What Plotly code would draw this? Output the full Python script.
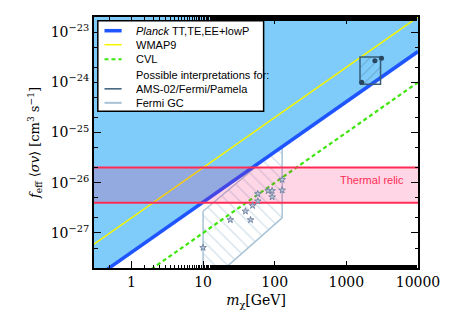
import plotly.graph_objects as go

# axis limits
m_range = [0.3, 10000]
sv_range = [2e-28, 2e-23]

# limits on f_eff <sigma v> (straight lines in log-log)
line_m = [0.3, 10000]
planck_sv = [1.23e-28, 4.1e-24]
wmap9_sv = [6.0e-28, 2.0e-23]
cvl_sv = [3.0e-29, 1.0e-24]

# thermal relic band
relic_low = 4e-27
relic_high = 2e-26

# AMS-02/Fermi/Pamela region and points
ams_box_m = [1550, 3000, 3000, 1550, 1550]
ams_box_sv = [9.2e-25, 9.2e-25, 3.2e-24, 3.2e-24, 9.2e-25]
ams_m = [1640, 2500, 3100]
ams_sv = [1.0e-24, 2.7e-24, 3.0e-24]

# Fermi GC region and fits
gc_poly_m = [10, 127, 127, 11.8, 10, 10]
gc_poly_sv = [2.7e-27, 5.7e-26, 2.0e-27, 1.0e-28, 1.0e-28, 2.7e-27]
gc_m = [10, 24, 39, 46, 49, 58, 58, 81, 92, 92, 127, 127]
gc_sv = [5.1e-28, 1.82e-27, 2.7e-27, 1.82e-27, 3.5e-27, 4.3e-27,
         6.0e-27, 6.9e-27, 6.9e-27, 5.2e-27, 1.15e-26, 7.1e-27]

x_ticks = [1, 10, 100, 1000, 10000]
x_ticktext = ['1', '10', '100', '1000', '10000']
y_ticks = [1e-27, 1e-26, 1e-25, 1e-24, 1e-23]
y_ticktext = ['10<sup>−27</sup>', '10<sup>−26</sup>', '10<sup>−25</sup>',
              '10<sup>−24</sup>', '10<sup>−23</sup>']

legend_names = ['<i>Planck</i> TT,TE,EE+lowP', 'WMAP9', 'CVL',
                'Possible interpretations for:', 'AMS-02/Fermi/Pamela', 'Fermi GC']

PLANCK_FILL = 'rgb(127,203,249)'
PLANCK_LINE = 'rgb(30,85,255)'
WMAP_COL = 'rgb(245,245,0)'
CVL_COL = 'rgb(60,230,10)'
GC_COL = 'rgb(168,195,215)'
AMS_COL = 'rgb(55,92,120)'
RELIC_COL = 'rgb(255,45,85)'
SANS = 'Liberation Sans, Arial'
SERIF = 'DejaVu Serif, Liberation Serif'

fig = go.Figure()

# Fermi GC hatched region (under the Planck region)
fig.add_trace(go.Scatter(
    x=gc_poly_m, y=gc_poly_sv, mode='lines', fill='toself',
    line=dict(color=GC_COL, width=1.5),
    fillcolor='rgba(0,0,0,0)',
    fillpattern=dict(shape='\\', fgcolor=GC_COL, bgcolor='rgba(255,255,255,0)',
                     size=9, solidity=0.15),
    hoverinfo='skip'))

# Planck excluded region
fig.add_trace(go.Scatter(
    x=[line_m[0], line_m[1], line_m[1], line_m[0]],
    y=[planck_sv[0], planck_sv[1], 1e-21, 1e-21],
    mode='lines', fill='toself', fillcolor=PLANCK_FILL,
    line=dict(width=0), hoverinfo='skip'))

fig.add_trace(go.Scatter(x=line_m, y=wmap9_sv, mode='lines',
                         line=dict(color=WMAP_COL, width=1.5)))
fig.add_trace(go.Scatter(x=line_m, y=cvl_sv, mode='lines',
                         line=dict(color=CVL_COL, width=2.2, dash='4px,3px')))
fig.add_trace(go.Scatter(x=line_m, y=planck_sv, mode='lines',
                         line=dict(color=PLANCK_LINE, width=3.5)))

# thermal relic band
fig.add_trace(go.Scatter(
    x=[line_m[0], line_m[1], line_m[1], line_m[0], line_m[0]],
    y=[relic_low, relic_low, relic_high, relic_high, relic_low],
    mode='lines', fill='toself', fillcolor='rgba(255,0,100,0.16)',
    line=dict(width=0), hoverinfo='skip'))
for v in (relic_low, relic_high):
    fig.add_trace(go.Scatter(x=line_m, y=[v, v], mode='lines',
                             line=dict(color=RELIC_COL, width=2)))

fig.add_trace(go.Scatter(
    x=gc_m, y=gc_sv, mode='markers',
    marker=dict(symbol='star', size=5, color='rgb(185,196,215)',
                line=dict(color='rgb(110,130,160)', width=0.9))))

# AMS box
fig.add_trace(go.Scatter(
    x=ams_box_m, y=ams_box_sv, mode='lines', fill='toself',
    line=dict(color=AMS_COL, width=1.5),
    fillcolor='rgba(0,0,0,0)',
    fillpattern=dict(shape='/', fgcolor=AMS_COL, bgcolor='rgba(255,255,255,0)',
                     size=7, solidity=0.12),
    hoverinfo='skip'))
fig.add_trace(go.Scatter(x=ams_m, y=ams_sv, mode='markers',
                         marker=dict(size=5, color='rgb(40,70,95)')))

fig.add_annotation(x=3.36, y=-25.94, xref='x', yref='y', text='Thermal relic',
                   showarrow=False, font=dict(color=RELIC_COL, size=11, family=SANS))

# hand-built legend box (Plotly's rows are too tall for this figure)
fig.add_shape(type='rect', xref='paper', yref='paper', x0=0.0118, x1=0.5235,
              y0=0.6245, y1=0.985, line=dict(color='black', width=1.5),
              fillcolor='white', layer='above')
legend_styles = [
    dict(color=PLANCK_LINE, width=3.5),
    dict(color=WMAP_COL, width=1.5),
    dict(color=CVL_COL, width=2.2, dash='4px,3px'),
    None,
    dict(color=AMS_COL, width=1.5),
    dict(color=GC_COL, width=2),
]
row_y = [0.9454, 0.8896, 0.8316, 0.7695, 0.7138, 0.658]
for name, style, yy in zip(legend_names, legend_styles, row_y):
    if style is not None:
        fig.add_shape(type='line', xref='paper', yref='paper', x0=0.0324, x1=0.0853,
                      y0=yy, y1=yy, line=style, layer='above')
    fig.add_annotation(xref='paper', yref='paper', x=0.1235, y=yy, text=name,
                       xanchor='left', yanchor='middle', showarrow=False,
                       font=dict(family=SANS, size=11, color='black'))

axis_common = dict(
    type='log', showline=True, linewidth=2, linecolor='black', mirror='allticks',
    ticks='inside', ticklen=7, tickwidth=1, tickcolor='black',
    showgrid=False, zeroline=False,
    tickfont=dict(family=SERIF, size=14, color='black'),
    minor=dict(ticks='inside', ticklen=3.5, tickcolor='black', showgrid=False),
)
fig.update_xaxes(**axis_common, range=[-0.5229, 4], tickvals=x_ticks, ticktext=x_ticktext,
                 title=dict(text='<i>m</i><sub>χ</sub>[GeV]', standoff=6,
                            font=dict(family=SERIF, size=14, color='black')))
fig.update_yaxes(**axis_common, range=[-27.699, -22.699], tickvals=y_ticks, ticktext=y_ticktext,
                 title=dict(text='<i>f</i><sub>eff</sub> ⟨<i>σv</i>⟩ [cm<sup>3</sup> s<sup>−1</sup>]',
                            standoff=8, font=dict(family=SERIF, size=13, color='black')))

fig.update_layout(
    plot_bgcolor='white', paper_bgcolor='white',
    margin=dict(l=86, r=29, t=7, b=51),
    showlegend=False,
)
fig.write_html('out.html')
